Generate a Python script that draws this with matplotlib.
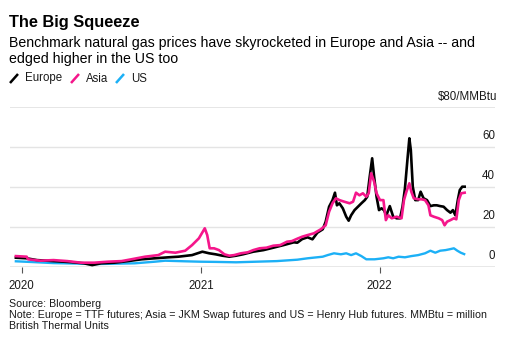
import matplotlib
matplotlib.use("Agg")
import matplotlib.pyplot as plt
from matplotlib.lines import Line2D
import pandas as pd

plt.rcParams['font.family'] = ['Liberation Sans', 'DejaVu Sans']

# ---------------- data ($/MMBtu) ----------------
europe_dates = ["2019-12-20", "2020-01-11", "2020-02-01", "2020-03-06", "2020-04-10", "2020-05-07",
                "2020-05-24", "2020-06-11", "2020-07-08", "2020-08-05", "2020-09-02", "2020-09-29",
                "2020-10-27", "2020-11-16", "2020-12-14", "2021-01-04", "2021-01-18", "2021-01-31",
                "2021-02-14", "2021-02-28", "2021-03-14", "2021-03-28", "2021-04-18", "2021-05-09",
                "2021-05-29", "2021-06-19", "2021-07-10", "2021-07-17", "2021-07-27", "2021-08-07",
                "2021-08-17", "2021-08-27", "2021-09-07", "2021-09-13", "2021-09-20", "2021-09-27",
                "2021-10-02", "2021-10-06", "2021-10-11", "2021-10-18", "2021-10-25", "2021-10-30",
                "2021-11-04", "2021-11-11", "2021-11-18", "2021-11-25", "2021-12-02", "2021-12-07",
                "2021-12-12", "2021-12-17", "2021-12-21", "2021-12-26", "2021-12-31", "2022-01-05",
                "2022-01-10", "2022-01-15", "2022-01-22", "2022-01-29", "2022-02-05", "2022-02-12",
                "2022-02-17", "2022-02-22", "2022-02-27", "2022-03-03", "2022-03-06", "2022-03-10",
                "2022-03-15", "2022-03-21", "2022-03-26", "2022-04-01", "2022-04-08", "2022-04-15",
                "2022-04-22", "2022-04-28", "2022-05-05", "2022-05-12", "2022-05-19", "2022-05-26",
                "2022-05-31", "2022-06-05", "2022-06-10", "2022-06-14", "2022-06-19", "2022-06-24"]
europe_values = [4.8, 4.5, 3.6, 3.1, 2.6, 2.0,
                 1.1, 2.0, 2.3, 3.1, 4.0, 4.5,
                 5.0, 5.3, 6.1, 7.8, 7.0, 6.5,
                 5.8, 5.3, 5.8, 6.5, 7.8, 8.6,
                 9.8, 11.1, 12.5, 12.3, 14.1, 15.0,
                 14.0, 17.3, 19.0, 22.8, 30.3, 33.6,
                 37.3, 31.0, 32.0, 29.5, 25.3, 23.3,
                 26.0, 28.6, 30.3, 32.0, 33.6, 35.3,
                 45.3, 54.5, 45.3, 35.3, 28.6, 29.5,
                 28.6, 26.0, 30.6, 25.3, 24.5, 24.5,
                 30.3, 39.5, 53.6, 64.5, 58.6, 40.3,
                 33.6, 33.6, 37.8, 34.5, 33.6, 30.6,
                 31.0, 31.0, 30.6, 30.3, 28.6, 27.3,
                 28.6, 26.0, 33.6, 38.6, 40.3, 40.3]

asia_dates = ["2019-12-20", "2020-01-11", "2020-01-14", "2020-02-08", "2020-03-06", "2020-04-03",
              "2020-05-01", "2020-05-28", "2020-06-25", "2020-07-23", "2020-08-12", "2020-09-09",
              "2020-10-06", "2020-10-20", "2020-11-10", "2020-11-30", "2020-12-14", "2020-12-28",
              "2021-01-09", "2021-01-14", "2021-01-19", "2021-01-28", "2021-02-07", "2021-02-18",
              "2021-02-28", "2021-03-10", "2021-03-24", "2021-04-07", "2021-04-18", "2021-05-01",
              "2021-05-15", "2021-05-29", "2021-06-12", "2021-06-26", "2021-07-06", "2021-07-17",
              "2021-07-27", "2021-08-07", "2021-08-20", "2021-09-03", "2021-09-13", "2021-09-20",
              "2021-09-27", "2021-10-04", "2021-10-11", "2021-10-21", "2021-11-01", "2021-11-08",
              "2021-11-14", "2021-11-21", "2021-11-28", "2021-12-05", "2021-12-10", "2021-12-15",
              "2021-12-21", "2021-12-26", "2022-01-02", "2022-01-09", "2022-01-14", "2022-01-19",
              "2022-01-26", "2022-02-05", "2022-02-15", "2022-02-20", "2022-02-25", "2022-03-03",
              "2022-03-07", "2022-03-12", "2022-03-21", "2022-03-28", "2022-04-04", "2022-04-11",
              "2022-04-15", "2022-04-22", "2022-05-02", "2022-05-09", "2022-05-14", "2022-05-19",
              "2022-05-26", "2022-06-02", "2022-06-07", "2022-06-12", "2022-06-17", "2022-06-24"]
asia_values = [5.6, 5.3, 4.0, 3.3, 3.6, 3.1,
               2.3, 2.3, 2.8, 3.1, 4.0, 5.3,
               6.1, 7.8, 7.3, 8.3, 11.1, 14.5,
               19.5, 16.1, 9.5, 9.5, 8.6, 6.5,
               5.8, 6.1, 7.0, 7.5, 8.6, 9.5,
               9.8, 10.8, 11.1, 12.8, 13.1, 14.3,
               15.3, 16.1, 17.0, 19.0, 21.0, 27.8,
               32.0, 34.5, 33.6, 32.8, 32.0, 32.8,
               37.3, 36.0, 37.0, 35.3, 37.0, 47.0,
               42.8, 37.0, 33.6, 33.6, 23.6, 26.0,
               24.5, 25.3, 24.5, 33.6, 37.8, 42.0,
               37.8, 34.5, 34.0, 34.0, 33.6, 31.0,
               26.0, 25.3, 24.5, 23.6, 21.0, 22.8,
               23.6, 24.5, 24.0, 33.6, 37.0, 37.3]

us_dates = ["2019-12-20", "2020-01-25", "2020-03-06", "2020-04-17", "2020-05-28", "2020-07-08",
            "2020-08-19", "2020-09-29", "2020-10-20", "2020-11-30", "2020-12-31", "2021-01-31",
            "2021-03-14", "2021-04-24", "2021-06-05", "2021-07-17", "2021-08-07", "2021-09-07",
            "2021-09-17", "2021-09-30", "2021-10-14", "2021-10-25", "2021-11-04", "2021-11-14",
            "2021-11-25", "2021-12-05", "2021-12-22", "2022-01-09", "2022-01-19", "2022-01-29",
            "2022-02-09", "2022-02-22", "2022-03-07", "2022-03-21", "2022-04-04", "2022-04-15",
            "2022-04-25", "2022-05-05", "2022-05-16", "2022-05-24", "2022-06-02", "2022-06-09",
            "2022-06-16", "2022-06-23"]
us_values = [3.0, 2.6, 2.1, 1.9, 1.6, 1.8,
             2.0, 2.8, 3.3, 3.0, 2.8, 2.7,
             2.5, 2.8, 3.1, 3.8, 4.5, 5.3,
             6.1, 7.0, 6.5, 7.0, 6.1, 7.0,
             5.6, 4.0, 4.0, 4.5, 5.0, 4.5,
             5.3, 5.0, 5.6, 6.1, 7.0, 8.3,
             7.3, 8.3, 8.6, 9.0, 9.5, 8.3,
             7.3, 6.6]

y_ticks = [0, 20, 40, 60]
x_tick_labels = ["2020", "2021", "2022"]
series_names = ["Europe", "Asia", "US"]
colors = {"Europe": "#000000", "Asia": "#f5168b", "US": "#1cb0f6"}

# ---------------- figure ----------------
W, H = 512, 345
fig = plt.figure(figsize=(W / 100, H / 100), dpi=100)
fig.patch.set_facecolor("white")

def fx(x):
    return x / W

def fy(y):
    return 1 - y / H

ax_left, ax_right = 10, 495
y0_px, y80_px = 267.3, 107.3
ax = fig.add_axes([fx(ax_left), fy(y0_px), fx(ax_right - ax_left), (y0_px - y80_px) / H])
ax.set_ylim(0, 80)
ax.set_xlim(pd.Timestamp("2019-12-08"), pd.Timestamp("2022-08-25"))

for v in [20, 40, 60, 80]:
    ax.axhline(v, color="#e4e4e4", lw=1.3 if v == 80 else 1.0, zorder=0)
ax.axhline(0, color="#8c8c8c", lw=1.0, zorder=1)

ax.plot(pd.to_datetime(us_dates), us_values, color=colors["US"], lw=1.7, zorder=3,
        solid_joinstyle="round")
ax.plot(pd.to_datetime(europe_dates), europe_values, color=colors["Europe"], lw=1.9, zorder=4,
        solid_joinstyle="round")
ax.plot(pd.to_datetime(asia_dates), asia_values, color=colors["Asia"], lw=1.9, zorder=5,
        solid_joinstyle="round")

for s in ax.spines.values():
    s.set_visible(False)
ax.set_yticks([])
ax.set_xticks(pd.to_datetime([f"{t}-01-01" for t in x_tick_labels]))
ax.set_xticklabels(x_tick_labels, fontsize=8.3, color="#1a1a1a")
ax.tick_params(axis="x", length=4, width=0.8, color="#555555", pad=5)
ax.patch.set_alpha(0)

# y labels above gridlines
for v in y_ticks:
    ax.annotate(str(v), xy=(1.0, v), xycoords=("axes fraction", "data"),
                xytext=(0, 4), textcoords="offset points",
                ha="right", va="bottom", fontsize=8.3, color="#1a1a1a")
fig.text(fx(497), fy(97), "$80/MMBtu", ha="right", va="center", fontsize=8.3, color="#1a1a1a")

# titles
fig.text(fx(9), fy(27.5), "The Big Squeeze", ha="left", va="baseline",
         fontsize=11.8, fontweight="bold", color="#000000")
fig.text(fx(9), fy(46.5), "Benchmark natural gas prices have skyrocketed in Europe and Asia -- and",
         ha="left", va="baseline", fontsize=10.15, color="#000000")
fig.text(fx(9), fy(62.5), "edged higher in the US too",
         ha="left", va="baseline", fontsize=10.15, color="#000000")

# legend
legend_x = {"Europe": 10, "Asia": 71, "US": 116}
for name in series_names:
    x = legend_x[name]
    fig.add_artist(Line2D([fx(x), fx(x + 8)], [fy(83), fy(74)], color=colors[name], lw=1.8,
                          transform=fig.transFigure, solid_capstyle="butt"))
    fig.text(fx(x + 15), fy(78.5), name, ha="left", va="center", fontsize=8.3, color="#1a1a1a")

# footer
fig.text(fx(9), fy(304), "Source: Bloomberg", ha="left", va="center", fontsize=7.65, color="#1a1a1a")
fig.text(fx(9), fy(315), "Note: Europe = TTF futures; Asia = JKM Swap futures and US = Henry Hub futures. MMBtu = million",
         ha="left", va="center", fontsize=7.65, color="#1a1a1a")
fig.text(fx(9), fy(326), "British Thermal Units", ha="left", va="center", fontsize=7.65, color="#1a1a1a")

fig.savefig("out.png", dpi=100, facecolor="white")
